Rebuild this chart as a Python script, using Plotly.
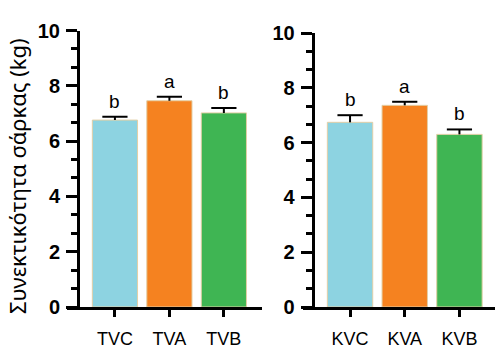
import plotly.graph_objects as go

# Data
left_cats = ["TVC", "TVA", "TVB"]
left_vals = [6.76, 7.46, 7.02]
left_err = [0.12, 0.14, 0.18]
left_letters = ["b", "a", "b"]

right_cats = ["KVC", "KVA", "KVB"]
right_vals = [6.74, 7.36, 6.30]
right_err = [0.26, 0.13, 0.18]
right_letters = ["b", "a", "b"]

colors = ["#8DD3E1", "#F58220", "#3FB553"]
ylabel = "Συνεκτικότητα σάρκας (kg)"
y_tickvals = [0, 2, 4, 6, 8, 10]
y_minor = 2 / 3

W, H = 504, 351
fig = go.Figure()

def add_panel(cats, vals, err, letters, xa, ya):
    fig.add_trace(go.Bar(
        x=cats, y=vals, xaxis=xa, yaxis=ya,
        marker=dict(color=colors, line=dict(color="#E3CFA6", width=1)),
        width=0.83,
        error_y=dict(type="data", symmetric=False, array=err,
                     arrayminus=[0] * len(err), color="black",
                     thickness=2, width=0),
        showlegend=False, hoverinfo="skip"))
    tops = [v + e for v, e in zip(vals, err)]
    # top caps of the error bars
    fig.add_trace(go.Scatter(
        x=cats, y=tops, xaxis=xa, yaxis=ya, mode="markers",
        marker=dict(symbol="line-ew", size=18, line=dict(color="black", width=2)),
        showlegend=False, hoverinfo="skip"))
    for c, t_y, t in zip(cats, tops, letters):
        fig.add_annotation(x=c, y=t_y, text=t, xref=xa, yref=ya,
                           showarrow=False, yanchor="bottom", yshift=3,
                           font=dict(family="Liberation Sans, Arial", size=19, color="black"))

add_panel(left_cats, left_vals, left_err, left_letters, "x", "y")
add_panel(right_cats, right_vals, right_err, right_letters, "x2", "y2")

left_dom = [1 - 307 / H, 1 - 30.5 / H]
right_dom = [1 - 307 / H, 1 - 33 / H]

fig.update_layout(
    template="none",
    width=W, height=H, margin=dict(l=0, r=0, t=0, b=0, autoexpand=False),
    paper_bgcolor="white", plot_bgcolor="rgba(0,0,0,0)",
    font=dict(family="Liberation Sans, Arial", color="black"),
    xaxis=dict(domain=[67 / W, 262 / W], range=[-0.88, 2.7], anchor="y"),
    xaxis2=dict(domain=[303 / W, 495 / W], range=[-0.86, 2.65], anchor="y2"),
    yaxis=dict(domain=left_dom, position=78 / W, anchor="free", range=[0, 10]),
    yaxis2=dict(domain=right_dom, position=312.7 / W, anchor="free", range=[0, 10]),
)

fig.update_xaxes(
    showline=True, linecolor="black", linewidth=3, ticks="outside",
    ticklen=7, tickwidth=3, tickcolor="black", showgrid=False, zeroline=False,
    tickfont=dict(family="Liberation Sans, Arial", size=18, color="black"),
    ticklabelstandoff=6, fixedrange=True, automargin=False,
)
fig.update_yaxes(
    tickmode="array", tickvals=y_tickvals,
    ticktext=["<b>%d</b>" % v for v in y_tickvals],
    showline=True, linecolor="black", linewidth=3,
    ticks="outside", ticklen=11, tickwidth=3, tickcolor="black",
    minor=dict(tickmode="linear", tick0=0, dtick=y_minor, ticks="outside",
               ticklen=6, tickwidth=3, tickcolor="black", showgrid=False),
    showgrid=False, zeroline=False,
    tickfont=dict(family="Liberation Sans, Arial", size=20, color="black", weight=700),
    ticklabelstandoff=2, automargin=False, fixedrange=True,
)

fig.add_annotation(x=17 / W, y=1 - 176 / H, xref="paper", yref="paper",
                   xanchor="center", yanchor="middle",
                   text=ylabel, textangle=-90, showarrow=False,
                   font=dict(family="Noto Sans", size=22, color="black"))

fig.write_html("out.html")
